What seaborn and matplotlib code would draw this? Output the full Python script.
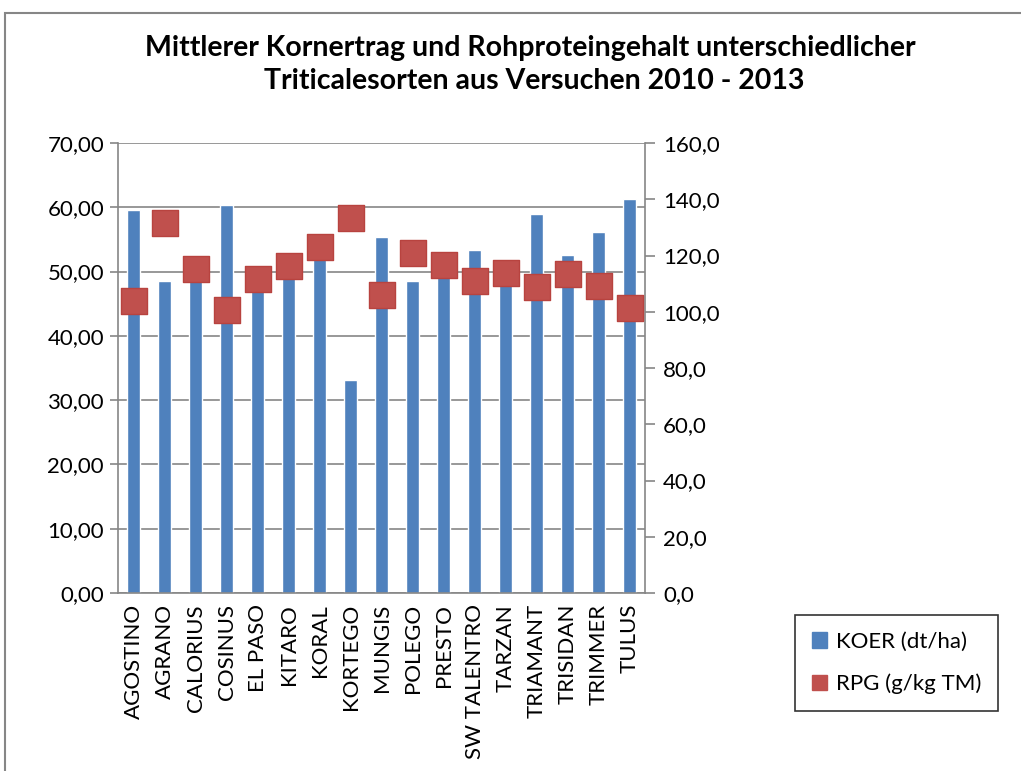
import numpy as np
import pandas as pd
import matplotlib
matplotlib.use('Agg')
import matplotlib.pyplot as plt
from matplotlib.patches import Patch, Rectangle
from matplotlib.ticker import FuncFormatter
import seaborn as sns

# data
sorten = ['AGOSTINO', 'AGRANO', 'CALORIUS', 'COSINUS', 'EL PASO', 'KITARO', 'KORAL',
          'KORTEGO', 'MUNGIS', 'POLEGO', 'PRESTO', 'SW TALENTRO', 'TARZAN',
          'TRIAMANT', 'TRISIDAN', 'TRIMMER', 'TULUS']
koer = [59.6, 48.6, 49.5, 60.4, 50.7, 50.0, 55.9, 33.1, 55.4, 48.6, 50.5,
        53.4, 49.5, 59.0, 52.6, 56.1, 61.3]
rpg = [103.9, 131.4, 115.3, 100.6, 111.5, 116.3, 123.1, 133.3, 105.8, 120.8,
       116.6, 111.0, 113.9, 108.9, 113.4, 109.3, 101.2]

df = pd.DataFrame({'Sorte': sorten, 'KOER': koer, 'RPG': rpg})

sns.set_style('white')
plt.rcParams['font.family'] = ['Lato', 'DejaVu Sans']
plt.rcParams['text.color'] = 'black'
plt.rcParams['xtick.labelcolor'] = 'black'
plt.rcParams['ytick.labelcolor'] = 'black'

blue = '#4F81BD'
red = '#C0504D'
grey = '#868686'

fig = plt.figure(figsize=(10.21, 7.71), dpi=100)
ax = fig.add_axes([118 / 1021, 1 - 593 / 771, 527 / 1021, 450 / 771])

sns.barplot(data=df, x='Sorte', y='KOER', color=blue, width=0.42,
            saturation=1, ax=ax, zorder=2)
ax.set_xlim(-0.5, len(sorten) - 0.5)
ax.set_ylim(0, 70)
ax.set_yticks(np.arange(0, 71, 10))
ax.yaxis.set_major_formatter(FuncFormatter(lambda v, p: f'{v:.2f}'.replace('.', ',')))
ax.grid(axis='y', color=grey, linewidth=1.2, zorder=0)
ax.set_axisbelow(True)
ax.set_xlabel('')
ax.set_ylabel('')

ax2 = ax.twinx()
sns.scatterplot(data=df, x='Sorte', y='RPG', marker='s', s=330, color=red,
                edgecolor='#B8433F', linewidth=1, ax=ax2, zorder=3, legend=False)
ax2.set_ylim(0, 160)
ax2.set_yticks(np.arange(0, 161, 20))
ax2.yaxis.set_major_formatter(FuncFormatter(lambda v, p: f'{v:.1f}'.replace('.', ',')))
ax2.set_ylabel('')
ax2.set_xlim(-0.5, len(sorten) - 0.5)

# x ticks between categories like Excel
ax.set_xticks(np.arange(len(sorten)))
ax.set_xticklabels(sorten, rotation=90, fontsize=16)
ax.set_xticks(np.arange(-0.5, len(sorten)), minor=True)
ax.tick_params(axis='x', which='major', length=0, pad=8, labelcolor='black')
ax.tick_params(axis='x', which='minor', length=7, color=grey, width=1.2)
ax.tick_params(axis='y', length=6, color=grey, width=1.2, labelsize=16, pad=4,
               labelcolor='black')
ax2.tick_params(axis='y', length=7, color=grey, width=1.2, labelsize=16, pad=6,
                labelcolor='black')

for a in (ax, ax2):
    for s in a.spines.values():
        s.set_visible(False)
for s in (ax.spines['left'], ax.spines['bottom'], ax2.spines['right']):
    s.set_visible(True)
    s.set_color(grey)
    s.set_linewidth(1.2)

fig.text(0.519, 1 - 48 / 771,
         'Mittlerer Kornertrag und Rohproteingehalt unterschiedlicher',
         ha='center', va='center', fontsize=20.5, fontweight='bold', color='black')
fig.text(0.523, 1 - 81 / 771, 'Triticalesorten aus Versuchen 2010 - 2013',
         ha='center', va='center', fontsize=20.5, fontweight='bold', color='black')

handles = [Patch(facecolor=blue, edgecolor=blue),
           Patch(facecolor=red, edgecolor=red)]
leg = fig.legend(handles, ['KOER (dt/ha)', 'RPG (g/kg TM)'],
                 loc='upper left', bbox_to_anchor=(795 / 1021, 1 - 615 / 771),
                 fontsize=16, frameon=True, fancybox=False, edgecolor='black',
                 handlelength=0.7, handleheight=0.7, handletextpad=0.4,
                 labelspacing=1.0, borderpad=0.75, borderaxespad=0)
leg.get_frame().set_linewidth(1.2)

# outer chart border (cut off on right and bottom)
fig.patches.append(Rectangle((5 / 1021, -0.1), 1.2, 1.1 - 13 / 771,
                             transform=fig.transFigure, fill=False,
                             edgecolor=grey, linewidth=1.5))

fig.savefig('out.png', dpi=100)
